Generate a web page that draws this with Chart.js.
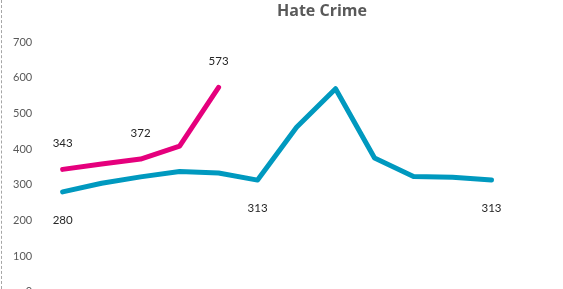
<!DOCTYPE html>
<html>
<head>
<meta charset="utf-8">
<script src="https://cdn.jsdelivr.net/npm/chart.js@4"></script>
<style>
  html, body { margin: 0; padding: 0; overflow: hidden; background: #fff; }
  #wrap { position: relative; width: 563px; height: 289px; overflow: hidden; }
  #box { position: absolute; left: 0; top: 0; width: 563px; height: 314px; }
  #title { position: absolute; left: 0; top: 0; width: 644px; text-align: center;
           font: bold 16px "Open Sans", sans-serif; color: #595959; line-height: 20px; }
  #edge { position: absolute; left: 1px; top: 0; height: 289px; border-left: 1px dashed #a6a6a6; }
</style>
</head>
<body>
<div id="wrap">
  <div id="box"><canvas id="hateCrimeChart"></canvas></div>
  <div id="title">Hate Crime</div>
  <div id="edge"></div>
</div>
<script>
const months = ['Jan', 'Feb', 'Mar', 'Apr', 'May', 'Jun', 'Jul', 'Aug', 'Sep', 'Oct', 'Nov', 'Dec'];
const previousYear = [280, 304, 322, 337, 333, 313, 461, 569, 375, 323, 321, 313];
const currentYear = [343, 358, 372, 408, 573];
const yTicks = [0, 100, 200, 300, 400, 500, 600, 700];
// which points get a value label
const previousLabelled = [0, 5, 11];
const currentLabelled = [0, 2, 4];

const valueLabels = {
    id: 'valueLabels',
    afterDatasetsDraw(chart) {
        const ctx = chart.ctx;
        ctx.save();
        ctx.font = '11.5px Lato, sans-serif';
        ctx.fillStyle = '#262626';
        ctx.textAlign = 'center';
        ctx.textBaseline = 'middle';
        const sets = [[previousLabelled, 28], [currentLabelled, -26]];
        sets.forEach(([idx, off], d) => {
            const meta = chart.getDatasetMeta(d);
            idx.forEach(i => {
                const pt = meta.data[i];
                ctx.fillText(chart.data.datasets[d].data[i], pt.x, pt.y + off);
            });
        });
        ctx.restore();
    }
};

const ctx = document.getElementById('hateCrimeChart').getContext('2d');
new Chart(ctx, {
    type: 'line',
    data: {
        labels: months,
        datasets: [
            {
                label: 'Previous year',
                data: previousYear,
                borderColor: '#0099BF',
                borderWidth: 5,
                pointRadius: 0,
                borderCapStyle: 'round',
                borderJoinStyle: 'round',
                fill: false
            },
            {
                label: 'Current year',
                data: currentYear,
                borderColor: '#E5007D',
                borderWidth: 5,
                pointRadius: 0,
                borderCapStyle: 'round',
                borderJoinStyle: 'round',
                fill: false
            }
        ]
    },
    options: {
        responsive: true,
        maintainAspectRatio: false,
        animation: false,
        layout: { padding: { left: 2, right: 52, top: 42, bottom: 3 } },
        plugins: {
            legend: { display: false },
            tooltip: { enabled: false },
            title: { display: false }
        },
        scales: {
            x: {
                offset: true,
                grid: { display: false, drawTicks: false },
                border: { display: false },
                ticks: { color: '#595959', font: { family: 'Lato', size: 11 } }
            },
            y: {
                min: 0,
                max: 700,
                afterBuildTicks: axis => { axis.ticks = yTicks.map(v => ({ value: v })); },
                grid: { display: false, drawTicks: false },
                border: { display: false },
                ticks: { padding: 11, color: '#595959', font: { family: 'Lato', size: 11 } }
            }
        }
    },
    plugins: [valueLabels]
});
</script>
</body>
</html>
